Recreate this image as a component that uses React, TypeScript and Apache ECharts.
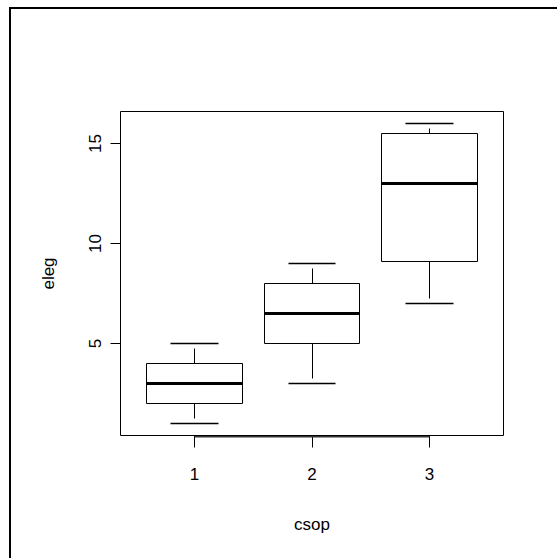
import React, { useEffect, useRef } from "react";
import * as echarts from "echarts";

const groupPositions = [1, 2, 3];
const xTickLabels = ["1", "2", "3"];
const yTickValues = [5, 10, 15];
const lowWhisker = [1, 3, 7];
const lowerQuartile = [2, 5, 9.1];
const medians = [3, 6.5, 13];
const upperQuartile = [4, 8, 15.5];
const highWhisker = [5, 9, 16];
const xName = "csop";
const yName = "eleg";

const FONT = "'Liberation Sans', Arial, Helvetica, sans-serif";

export default function App() {
  const ref = useRef<HTMLDivElement>(null);
  useEffect(() => {
    if (!ref.current) return;
    const chart = echarts.init(ref.current, undefined, { renderer: "svg" });
    const boxData = groupPositions.map((x, i) => [
      x,
      lowWhisker[i],
      lowerQuartile[i],
      medians[i],
      upperQuartile[i],
      highWhisker[i],
    ]);
    const crisp = (v: number) => Math.round(v - 0.5) + 0.5;
    const option: any = {
      animation: false,
      backgroundColor: "#fff",
      textStyle: { fontFamily: FONT },
      graphic: [
        { type: "line", shape: { x1: 9, y1: 8, x2: 557, y2: 8 }, style: { stroke: "#000", lineWidth: 2 } },
        { type: "line", shape: { x1: 10, y1: 7, x2: 10, y2: 558 }, style: { stroke: "#000", lineWidth: 2 } },
      ],
      grid: {
        left: 120.5,
        top: 111.5,
        width: 383,
        height: 324,
        show: true,
        borderColor: "#000",
        borderWidth: 1,
        backgroundColor: "transparent",
      },
      xAxis: {
        type: "value",
        min: 0.37,
        max: 3.63,
        name: xName,
        nameLocation: "middle",
        nameGap: 80,
        nameTextStyle: { fontSize: 17, color: "#000", fontFamily: FONT },
        axisLine: { show: false },
        splitLine: { show: false },
        axisTick: { show: true, length: 12, customValues: groupPositions, lineStyle: { color: "#000", width: 1 } },
        axisLabel: {
          show: true,
          customValues: groupPositions,
          margin: 30,
          fontSize: 17,
          color: "#000",
          fontFamily: FONT,
          formatter: (v: number) => xTickLabels[groupPositions.indexOf(v)] ?? String(v),
        },
      },
      yAxis: {
        type: "value",
        min: 0.4,
        max: 16.6,
        name: yName,
        nameLocation: "middle",
        nameGap: 64,
        nameTextStyle: { fontSize: 17, color: "#000", fontFamily: FONT },
        axisLine: { show: false },
        splitLine: { show: false },
        axisTick: { show: true, length: 10, customValues: yTickValues, lineStyle: { color: "#000", width: 1 } },
        axisLabel: {
          show: true,
          customValues: yTickValues,
          rotate: 90,
          margin: 17,
          fontSize: 17,
          color: "#000",
          fontFamily: FONT,
        },
      },
      series: [
        {
          type: "custom",
          data: boxData,
          clip: false,
          renderItem: (params: any, api: any) => {
            const x = api.value(0);
            const cx = api.coord([x, api.value(1)])[0];
            const yLow = api.coord([x, api.value(1)])[1];
            const yQ1 = api.coord([x, api.value(2)])[1];
            const yMed = api.coord([x, api.value(3)])[1];
            const yQ3 = api.coord([x, api.value(4)])[1];
            const yHigh = api.coord([x, api.value(5)])[1];
            const halfW = api.size([0.81, 0])[0] / 2;
            const halfS = halfW / 2;
            const xc = crisp(cx);
            const left = crisp(cx - halfW);
            const right = crisp(cx + halfW);
            const top = crisp(yQ3);
            const bottom = crisp(yQ1);
            const gap = 5;
            const st = { stroke: "#000", lineWidth: 1, fill: "none" };
            return {
              type: "group",
              children: [
                { type: "line", shape: { x1: xc, y1: top, x2: xc, y2: crisp(yHigh) + gap }, style: st },
                { type: "line", shape: { x1: xc, y1: bottom, x2: xc, y2: crisp(yLow) - gap }, style: st },
                { type: "line", shape: { x1: crisp(cx - halfS), y1: crisp(yHigh), x2: crisp(cx + halfS), y2: crisp(yHigh) }, style: { ...st, lineWidth: 1.3 } },
                { type: "line", shape: { x1: crisp(cx - halfS), y1: crisp(yLow), x2: crisp(cx + halfS), y2: crisp(yLow) }, style: { ...st, lineWidth: 1.3 } },
                { type: "rect", shape: { x: left, y: top, width: right - left, height: bottom - top }, style: { ...st, fill: "#fff" } },
                { type: "line", shape: { x1: left, y1: crisp(yMed), x2: right, y2: crisp(yMed) }, style: { stroke: "#000", lineWidth: 3 } },
              ],
            };
          },
        },
        {
          type: "custom",
          data: [[groupPositions[0], groupPositions[groupPositions.length - 1]]],
          clip: false,
          renderItem: (params: any, api: any) => {
            const p1 = api.coord([api.value(0), 0.4]);
            const p2 = api.coord([api.value(1), 0.4]);
            const y = crisp(p1[1]) + 1.2;
            return {
              type: "line",
              shape: { x1: crisp(p1[0]), y1: y, x2: crisp(p2[0]), y2: y },
              style: { stroke: "#333", lineWidth: 1.4 },
            };
          },
        },
      ],
    };
    chart.setOption(option);
    return () => chart.dispose();
  }, []);
  return (
    <div
      ref={ref}
      style={{ position: "absolute", left: 0, top: 0, width: 557, height: 558, background: "#fff" }}
    />
  );
}
